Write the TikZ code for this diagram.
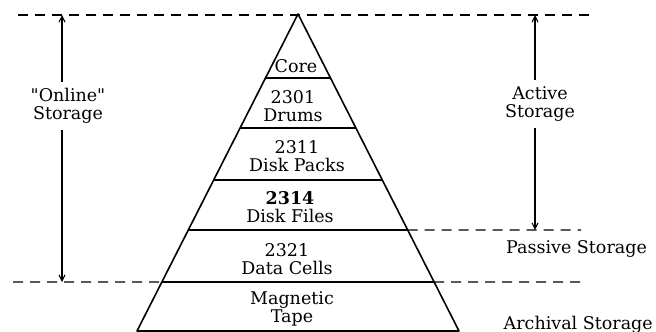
\documentclass[tikz,border=0pt]{standalone}
\usepackage{fontspec}
\newfontfamily\labelfont{DejaVu Serif}
\usetikzlibrary{calc,arrows.meta}
\begin{document}
\begin{tikzpicture}[x=1pt,y=-1pt,>={Straight Barb[length=6pt,width=6pt]},font=\labelfont\fontsize{17.5}{18}\selectfont]
\tikzset{
  layer/.style={align=center,inner sep=1pt},
  side/.style={align=center,inner sep=6pt},
  bound/.style={dash pattern=on 10pt off 7pt,line width=1.1pt},
  span/.style={->,line width=1.1pt}
}
\useasboundingbox (0,0) rectangle (656,332);
% pyramid and its layers
\coordinate (apex) at (298,14);
\coordinate (bl) at (137,331);
\coordinate (br) at (459,331);
\draw[line width=1.6pt,line join=round] (apex) -- (bl) -- (br) -- cycle;
\foreach \y/\n in {78/core,128/drum,180/pack,230/file,282/cell}{
  \pgfmathsetmacro\t{(\y-14)/317}
  \coordinate (l-\n) at ($(apex)!\t!(bl)$);
  \coordinate (r-\n) at ($(apex)!\t!(br)$);
  \draw[line width=1.6pt] (l-\n) -- (r-\n);
}
\node[layer] (core) at (296,66) {Core};
\node[layer] (drums) at (293,106) {2301\\Drums};
\node[layer] (packs) at (297,156) {2311\\Disk Packs};
\node[layer] (files) at (290,207) {\textbf{2314}\\Disk Files};
\node[layer] (cells) at (287,259) {2321\\Data Cells};
\node[layer] (tape) at (292,309) {Magnetic\\Tape};
% boundaries
\coordinate (top-l) at (18,15);
\coordinate (top-r) at (589,15);
\coordinate (cell-l) at (13,282);
\coordinate (cell-r) at (584,282);
\coordinate (file-r) at (581,230);
\draw[bound] (top-l) -- (top-r);
\draw[bound] (cell-l) -- (l-cell);
\draw[bound] (r-cell) -- (cell-r);
\draw[bound] (r-file) -- (file-r);
% side labels
\node[side] (online) at (68,106) {"Online"\\Storage};
\node[side] (active) at (540,104) {Active\\Storage};
\node[anchor=base west,inner sep=0pt] (passive) at (506,253) {Passive Storage};
\node[anchor=base east,inner sep=0pt] (archival) at (653,329) {Archival Storage};
\draw[span] (online.north -| 62,0) -- (62,15);
\draw[span] (online.south -| 62,0) -- (62,282);
\draw[span] (active.north -| 535,0) -- (535,15);
\draw[span] (active.south -| 535,0) -- (535,230);
\end{tikzpicture}
\end{document}
